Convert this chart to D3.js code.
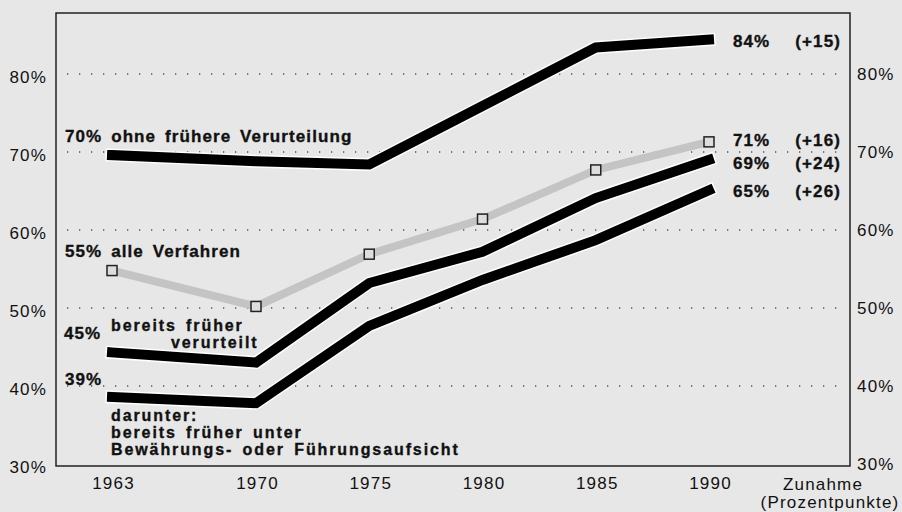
<!DOCTYPE html>
<html>
<head>
<meta charset="utf-8">
<script src="https://cdn.jsdelivr.net/npm/d3@7"></script>
<style>
  body { margin: 0; background: #e7e7e7; }
  svg { display: block; font-family: "Liberation Sans", Arial, sans-serif; }
  .ax text { fill: #111; font-size: 17px; letter-spacing: 1.2px; }
  .lbl { font-weight: bold; font-size: 17px; fill: #111; stroke: #111; stroke-width: 0.35px;
         letter-spacing: 1.1px; word-spacing: 3px; }
  .lbl.stack { font-size: 16px; letter-spacing: 1.9px; }
</style>
</head>
<body>
<svg id="chart" width="902" height="512"></svg>
<script>
// values (percent)
const years = [1963, 1970, 1975, 1980, 1985, 1990];
const ohneFruehere = [69.6, 68.8, 68.4, 75.9, 83.4, 84.4];
const alleVerfahren = [54.8, 50.2, 56.9, 61.4, 67.7, 71.3];
const bereitsFrueher = [44.3, 43.0, 53.2, 57.2, 64.1, 69.0];
const darunter = [38.6, 37.8, 47.7, 53.6, 58.7, 65.1];
const yTicks = [30, 40, 50, 60, 70, 80];
const endPercent = ['84%', '71%', '69%', '65%'];
const endIncrease = ['(+15)', '(+16)', '(+24)', '(+26)'];

const svg = d3.select('#chart');
const frame = { left: 56, top: 13, right: 850, bottom: 466 };

// the year axis is not evenly spaced: 1963-1970 is drawn shorter
const x = d3.scaleLinear().domain([1963, 1970, 1990]).range([112, 256, 709]);
const y = d3.scaleLinear().domain([30, 80]).range([464, 74]);

// dotted grid
svg.append('g')
	.selectAll('line')
	.data(yTicks.filter((d) => d > 30))
	.join('line')
	.attr('x1', 67)
	.attr('x2', 842)
	.attr('y1', (d) => y(d))
	.attr('y2', (d) => y(d))
	.attr('stroke', '#555')
	.attr('stroke-width', 1.3)
	.attr('stroke-dasharray', '1.3 10.7');

svg.append('rect')
	.attr('x', frame.left)
	.attr('y', frame.top)
	.attr('width', frame.right - frame.left)
	.attr('height', frame.bottom - frame.top)
	.attr('fill', 'none')
	.attr('stroke', '#222')
	.attr('stroke-width', 1.5);

const fmt = (d) => d + '%';
const clean = (g) => {
	g.attr('font-size', null).attr('font-family', null).attr('class', 'ax');
	g.select('.domain').remove();
};
svg.append('g')
	.attr('transform', 'translate(47,3)')
	.call(d3.axisLeft(y).tickValues(yTicks).tickFormat(fmt).tickSize(0).tickPadding(0))
	.call(clean);
svg.append('g')
	.attr('transform', 'translate(857,0)')
	.call(d3.axisRight(y).tickValues(yTicks).tickFormat(fmt).tickSize(0).tickPadding(0))
	.call(clean);
svg.append('g')
	.attr('transform', 'translate(1,477)')
	.call(d3.axisBottom(x).tickValues(years).tickFormat(d3.format('d')).tickSize(0).tickPadding(0))
	.call(clean);

// "Zunahme (Prozentpunkte)" under the right axis
svg.append('text')
	.attr('text-anchor', 'middle')
	.style('fill', '#111').style('font-size', '17px').style('letter-spacing', '1.2px')
	.selectAll('tspan')
	.data([[823, 490, 'Zunahme'], [830, 508, '(Prozentpunkte)']])
	.join('tspan')
	.attr('x', (d) => d[0])
	.attr('y', (d) => d[1])
	.text((d) => d[2]);

const line = d3.line().x((d, i) => x(years[i])).y((d) => y(d));

// grey series with square markers
svg.append('path')
	.datum(alleVerfahren)
	.attr('d', line)
	.attr('fill', 'none')
	.attr('stroke', '#c4c4c4')
	.attr('stroke-width', 8);
svg.append('g')
	.selectAll('rect')
	.data(alleVerfahren)
	.join('rect')
	.attr('x', (d, i) => x(years[i]) - 5)
	.attr('y', (d) => y(d) - 5)
	.attr('width', 10)
	.attr('height', 10)
	.attr('fill', '#ddd')
	.attr('stroke', '#222')
	.attr('stroke-width', 1.5);

[ohneFruehere, bereitsFrueher, darunter].forEach((series) => {
	svg.append('path')
		.datum(series)
		.attr('d', line)
		.attr('fill', 'none')
		.attr('stroke', '#fff')
		.attr('stroke-width', 13)
		.attr('stroke-linejoin', 'round')
		.attr('stroke-linecap', 'square');
	svg.append('path')
		.datum(series)
		.attr('d', line)
		.attr('fill', 'none')
		.attr('stroke', '#000')
		.attr('stroke-width', 10)
		.attr('stroke-linecap', 'square');
});

// series labels, one text per label, lines as [x, baseline, text]
const labels = [
	[[65, 142, '70% ohne frühere Verurteilung']],
	[[65, 257, '55% alle Verfahren']],
	[[64, 339, '45%']],
	[[111, 331, 'bereits früher'], [171, 348, 'verurteilt']],
	[[65, 385, '39%']],
	[[111, 421, 'darunter:'], [111, 438, 'bereits früher unter'], [111, 455, 'Bewährungs- oder Führungsaufsicht']]
];
svg.append('g')
	.selectAll('text')
	.data(labels)
	.join('text')
	.attr('class', (d) => (d.length > 1 ? 'lbl stack' : 'lbl'))
	.selectAll('tspan')
	.data((d) => d)
	.join('tspan')
	.attr('x', (d) => d[0])
	.attr('y', (d) => d[1])
	.text((d) => d[2]);

const endY = [47, 146, 169, 197];
svg.append('g')
	.selectAll('text')
	.data(endPercent)
	.join('text')
	.attr('class', 'lbl')
	.attr('x', 733)
	.attr('y', (d, i) => endY[i])
	.text((d) => d);
svg.append('g')
	.selectAll('text')
	.data(endIncrease)
	.join('text')
	.attr('class', 'lbl')
	.attr('x', 841)
	.attr('y', (d, i) => endY[i])
	.attr('text-anchor', 'end')
	.text((d) => d);
</script>
</body>
</html>
